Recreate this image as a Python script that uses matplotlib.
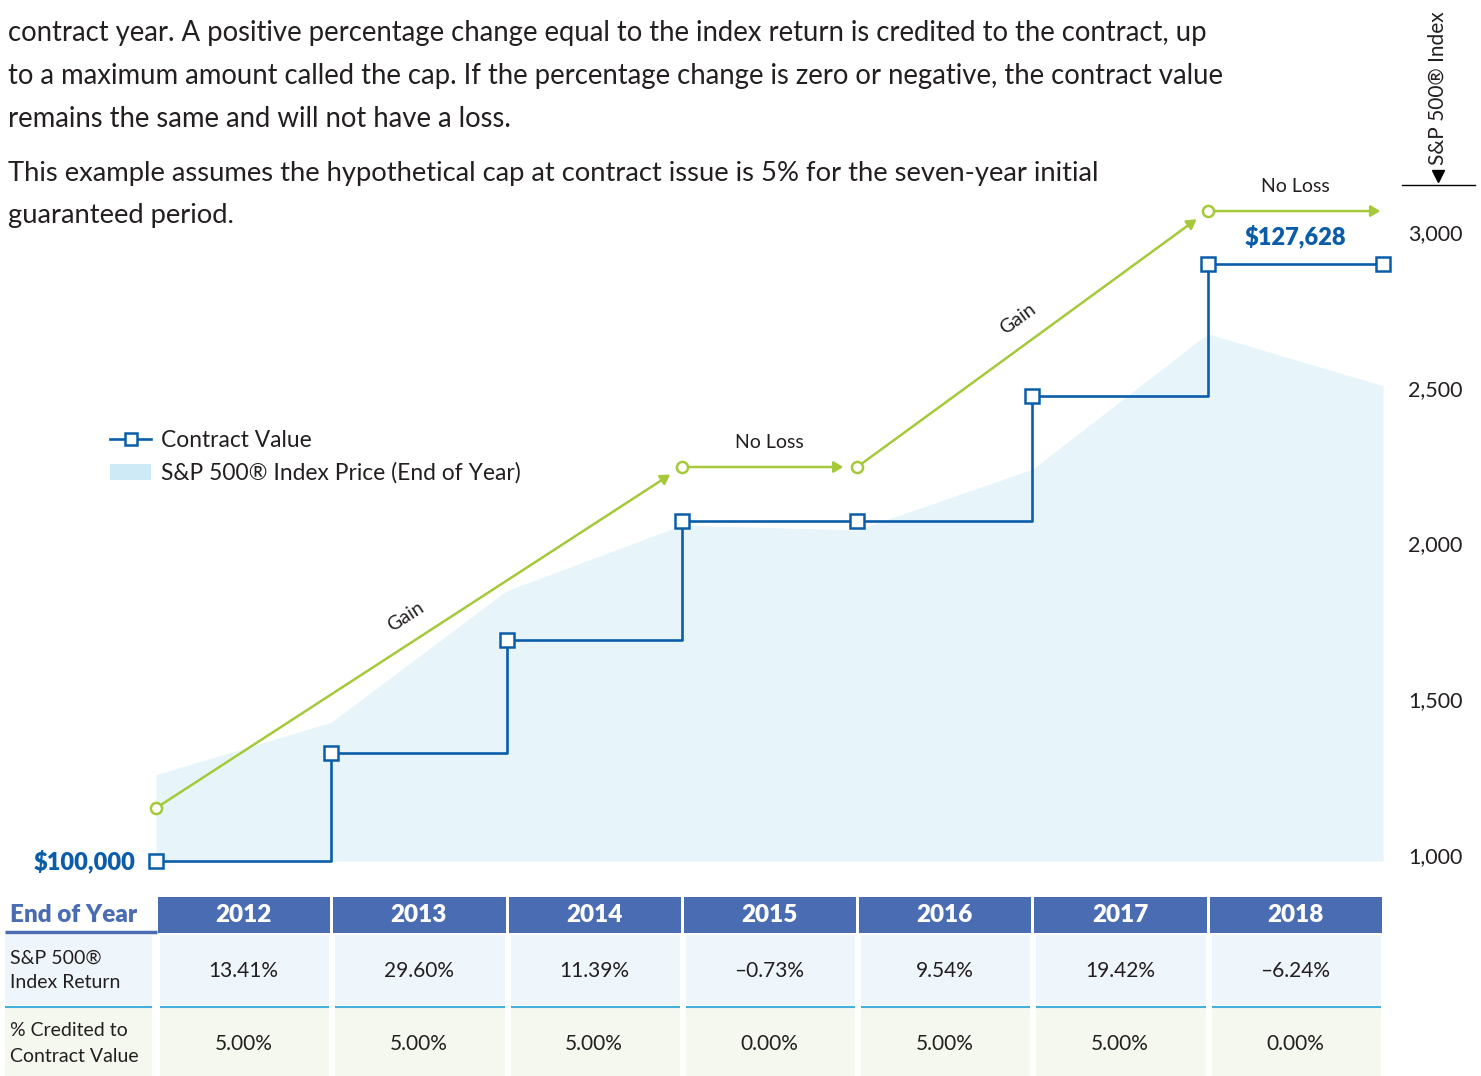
import numpy as np
import matplotlib
matplotlib.use('Agg')
import matplotlib.pyplot as plt
from matplotlib.patches import Rectangle, Patch
from matplotlib.lines import Line2D

plt.rcParams['font.family'] = ['Lato', 'DejaVu Sans']

#%% data
years = ['2012', '2013', '2014', '2015', '2016', '2017', '2018']
index_return = ['13.41%', '29.60%', '11.39%', '–0.73%', '9.54%', '19.42%', '–6.24%']
credited = ['5.00%', '5.00%', '5.00%', '0.00%', '5.00%', '5.00%', '0.00%']

# point 0 = contract issue (end of 2011), then one point per year end
sp500_price = [1257.60, 1426.19, 1848.36, 2058.90, 2043.94, 2238.83, 2673.61, 2506.85]
contract_value = [100000, 105000, 110250, 115762.50, 115762.50, 121550.63, 127628.16, 127628.16]

# green gain / no loss path, in contract value units
path_x = [0, 3, 4, 6, 7]
path_y = [102450, 118240, 118240, 130090, 130090]
path_labels = ['Gain', 'No Loss', 'Gain', 'No Loss']

sp_ticks = [1000, 1500, 2000, 2500, 3000]

para1 = ['contract year. A positive percentage change equal to the index return is credited to the contract, up',
         'to a maximum amount called the cap. If the percentage change is zero or negative, the contract value',
         'remains the same and will not have a loss.']
para2 = ['This example assumes the hypothetical cap at contract issue is 5% for the seven-year initial',
         'guaranteed period.']

#%% colours
blue = '#0B5DAA'
green = '#A5C93A'
area = '#E7F4FA'
hdr_blue = '#4A6CB3'
row1_bg = '#EFF6FB'
row2_bg = '#F4F8EE'
cyan = '#45B0E0'
ink = '#231F20'

#%% figure
W, H = 1481, 1076
fig = plt.figure(figsize=(W / 100, H / 100), dpi=100)
x0, x1 = 156, 1383
ytop, ybot = 190, 861
ax = fig.add_axes([x0 / W, 1 - ybot / H, (x1 - x0) / W, (ybot - ytop) / H])
xs = np.arange(len(sp500_price))
ax.set_xlim(0, 7)
ax.set_ylim(980.7, 3135.5)
ax.fill_between(xs, sp500_price, 980.7, color=area, lw=0)
ax.set_xticks([])
for s in ax.spines.values():
    s.set_visible(False)
ax.patch.set_visible(False)

ax2 = ax.twinx()
ax2.set_ylim(100000, 131065)
ax2.set_yticks([])
for s in ax2.spines.values():
    s.set_visible(False)

# right hand S&P ticks (after twinx, which resets them to the left)
ax.yaxis.tick_right()
ax.set_yticks(sp_ticks)
ax.set_yticklabels([f'{t:,}' for t in sp_ticks])
ax.tick_params(axis='y', which='both', left=False, labelleft=False, right=False, labelright=True,
               length=0, pad=18, labelsize=15.5, labelcolor=ink)

ax2.plot(xs, contract_value, drawstyle='steps-post', color=blue, lw=1.9, clip_on=False)
ax2.plot(xs, contract_value, ls='none', marker='s', ms=10, mfc='white', mec=blue, mew=1.8,
         clip_on=False, zorder=5)

fig.canvas.draw()
for i in range(len(path_x) - 1):
    last = i == len(path_x) - 2
    ax2.annotate('', xy=(path_x[i + 1], path_y[i + 1]), xytext=(path_x[i], path_y[i]),
                 arrowprops=dict(arrowstyle='-|>,head_length=0.55,head_width=0.33', color=green,
                                 lw=1.8, shrinkA=5, shrinkB=2 if last else 10),
                 annotation_clip=False)
    p0 = ax2.transData.transform((path_x[i], path_y[i]))
    p1 = ax2.transData.transform((path_x[i + 1], path_y[i + 1]))
    ang = np.arctan2(p1[1] - p0[1], p1[0] - p0[0])
    off = (-np.sin(ang) * 25, np.cos(ang) * 25)
    ax2.annotate(path_labels[i], xy=((path_x[i] + path_x[i + 1]) / 2, (path_y[i] + path_y[i + 1]) / 2),
                 xytext=off, textcoords='offset pixels', rotation=np.degrees(ang),
                 ha='center', va='center', fontsize=14, color=ink, annotation_clip=False)
ax2.plot(path_x[:-1], path_y[:-1], ls='none', marker='o', ms=8, mfc='white', mec=green, mew=1.8,
         clip_on=False, zorder=6)

ax2.annotate(f'${contract_value[0]:,.0f}', xy=(0, contract_value[0]), xytext=(-21, 0),
             textcoords='offset pixels', ha='right', va='center', fontsize=17,
             fontweight='heavy', color=blue, annotation_clip=False)
ax2.annotate(f'${contract_value[-1]:,.0f}', xy=(6.5, contract_value[-1]), xytext=(0, 28),
             textcoords='offset pixels', ha='center', va='center', fontsize=17,
             fontweight='heavy', color=blue, annotation_clip=False)

handles = [Line2D([], [], color=blue, lw=1.9, marker='s', ms=9, mfc='white', mec=blue, mew=1.8),
           Patch(facecolor='#CDEAF6', edgecolor='none')]
fig.legend(handles, ['Contract Value', 'S&P 500® Index Price (End of Year)'], loc='upper left',
           bbox_to_anchor=(110 / W, 1 - 430 / H), frameon=False, fontsize=16.4, handlelength=1.8,
           handletextpad=0.45, labelspacing=0.5, borderaxespad=0, borderpad=0, labelcolor=ink)

#%% overlay in pixel coordinates for text and table
ov = fig.add_axes([0, 0, 1, 1])
ov.set_xlim(0, W)
ov.set_ylim(H, 0)
ov.axis('off')

for k, line in enumerate(para1):
    ov.text(8, 33 + 43 * k, line, fontsize=19.8, color=ink, va='center', ha='left')
for k, line in enumerate(para2):
    ov.text(8, 173 + 43 * k, line, fontsize=19.7, color=ink, va='center', ha='left')

ov.text(1438, 88, 'S&P 500® Index', rotation=90, ha='center', va='center', fontsize=15, color=ink)
ov.plot(1438, 176, marker='v', ms=9, color='black', ls='none')
ov.plot([1402, 1475], [185, 185], color='black', lw=1)

# table
col_w = (x1 - x0) / len(years)
ov.text(10, 915, 'End of Year', ha='left', va='center', fontsize=17.5, fontweight='heavy', color=hdr_blue)
ov.plot([5, 157], [932, 932], color=hdr_blue, lw=2.5, solid_capstyle='butt')
ov.add_patch(Rectangle((5, 935), 147, 70, color=row1_bg, lw=0))
ov.add_patch(Rectangle((5, 1008), 147, 68, color=row2_bg, lw=0))
ov.plot([5, 152], [1007, 1007], color=cyan, lw=1.5, solid_capstyle='butt')
ov.text(10, 958, 'S&P 500®', ha='left', va='center', fontsize=14, color=ink)
ov.text(10, 983, 'Index Return', ha='left', va='center', fontsize=14, color=ink)
ov.text(10, 1031, '% Credited to', ha='left', va='center', fontsize=14, color=ink)
ov.text(10, 1056, 'Contract Value', ha='left', va='center', fontsize=14, color=ink)

for i, yr in enumerate(years):
    cx = x0 + i * col_w
    cmid = cx + col_w / 2
    ov.add_patch(Rectangle((cx + 2, 897), col_w - 3, 36, color=hdr_blue, lw=0))
    ov.text(cmid, 915, yr, ha='center', va='center', fontsize=17.5, fontweight='heavy', color='white')
    ov.add_patch(Rectangle((cx + 4, 935), col_w - 6, 70, color=row1_bg, lw=0))
    ov.add_patch(Rectangle((cx + 4, 1008), col_w - 6, 68, color=row2_bg, lw=0))
    ov.plot([cx + 4, cx + col_w - 2], [1007, 1007], color=cyan, lw=1.5, solid_capstyle='butt')
    ov.text(cmid, 971, index_return[i], ha='center', va='center', fontsize=15, color=ink)
    ov.text(cmid, 1044, credited[i], ha='center', va='center', fontsize=15, color=ink)

plt.savefig('out.png', dpi=100)
